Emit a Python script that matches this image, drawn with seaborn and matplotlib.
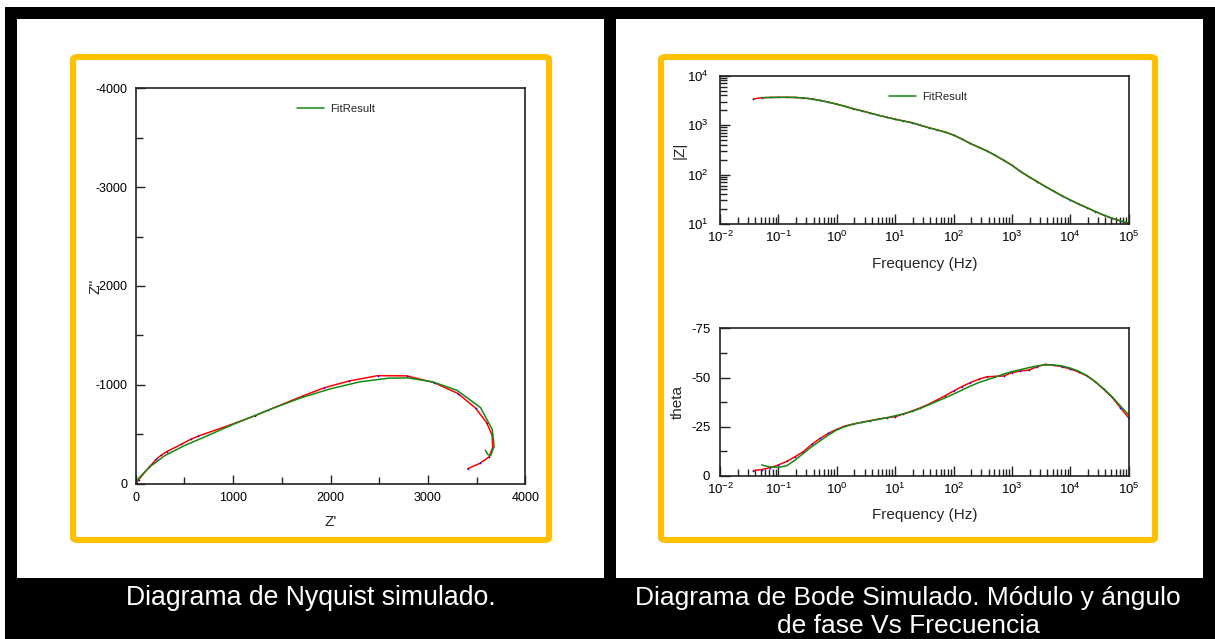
import matplotlib
matplotlib.use("Agg")
import numpy as np
import matplotlib.pyplot as plt
import seaborn as sns
from matplotlib.patches import Rectangle, FancyBboxPatch
from matplotlib.ticker import (LogLocator, LogFormatterMathtext, MultipleLocator,
                               NullFormatter)

# ---------------- data ----------------
# Nyquist: measured spectrum (Z' , Z'') and equivalent-circuit fit
zre_meas = [9, 30, 140, 175, 209, 260, 318, 465, 565, 643, 968, 1225, 1362, 1721,
            1937, 2190, 2484, 2782, 3065, 3311, 3490, 3603, 3660, 3665, 3630, 3534, 3408]
zim_meas = [-5, -40, -172, -206, -246, -287, -324, -398, -449, -482, -594, -688, -745, -890,
            -971, -1039, -1093, -1091, -1022, -911, -763, -617, -489, -368, -273, -206, -152]
zre_fit = [0, 30, 150, 300, 500, 700, 1000, 1400, 1700, 2000, 2300, 2600, 2800, 3050,
           3300, 3540, 3660, 3680, 3645, 3615, 3590]
zim_fit = [0, -55, -175, -285, -385, -470, -600, -760, -870, -960, -1030, -1068, -1070, -1030,
           -944, -770, -550, -380, -285, -295, -340]

# Bode: frequencies (Hz), modulus (ohm) and phase (deg)
freq_hz = [100000, 71969, 51795, 37276, 26827, 19307, 13895, 10000,
           7197, 5179, 3728, 2683, 1931, 1389.5, 1000,
           719.7, 517.9, 372.8, 268.3, 193.1, 139.0, 100.0,
           71.97, 51.79, 37.28, 26.83, 19.31, 13.89, 10.0,
           7.197, 5.179, 3.728, 2.683, 1.931, 1.389, 1.0,
           0.7197, 0.5179, 0.3728, 0.2683, 0.1931, 0.1389, 0.1,
           0.07197, 0.05179, 0.03728]
zmod_meas = [10.3, 11.5, 13.0, 15.1, 17.8, 21.4, 25.4, 30.6,
             37.2, 46.2, 57.5, 72.4, 91.2, 117, 155,
             195, 245, 302, 359, 427, 525, 631,
             724, 804, 891, 1000, 1122, 1216, 1318,
             1445, 1585, 1758, 1950, 2138, 2399, 2661,
             2917, 3162, 3388, 3548, 3631, 3656, 3656,
             3631, 3589, 3388]
phase_meas = [-29.5, -34.7, -40.0, -44.0, -47.9, -50.8, -52.8, -54.3,
              -55.5, -56.2, -56.7, -55.5, -53.8, -53.3, -52.5,
              -50.8, -50.6, -50.4, -49.1, -47.4, -45.4, -43.2,
              -40.8, -38.6, -36.4, -34.6, -33.0, -31.5, -30.1,
              -29.6, -28.9, -28.1, -27.3, -26.4, -25.4, -23.7,
              -21.7, -19.1, -16.1, -12.4, -9.8, -7.4, -5.6,
              -4.2, -3.3, -2.7]
freq_fit = freq_hz[:45]
zmod_fit = [10.4, 11.6, 13.1, 15.2, 17.9, 21.3, 25.3, 30.5,
            37.1, 46.0, 57.3, 72.0, 90.8, 116, 154,
            194, 244, 300, 357, 425, 522, 628,
            721, 802, 889, 998, 1118, 1212, 1312,
            1440, 1580, 1752, 1944, 2130, 2390, 2650,
            2905, 3150, 3380, 3545, 3630, 3656, 3650,
            3620, 3590]
phase_fit = [-31.0, -35.6, -40.3, -44.3, -47.8, -51.0, -53.2, -54.8,
             -55.9, -56.4, -56.4, -55.9, -55.0, -54.0, -53.0,
             -51.8, -50.2, -48.8, -47.4, -45.6, -43.6, -41.6,
             -39.7, -37.9, -36.1, -34.3, -32.7, -31.6, -30.6,
             -29.6, -28.8, -28.0, -27.2, -26.4, -25.1, -23.4,
             -20.8, -17.9, -14.9, -11.5, -8.1, -5.2, -4.4,
             -4.6, -5.6]

captions = ["Diagrama de Nyquist simulado.",
            "Diagrama de Bode Simulado. Módulo y ángulo\nde fase Vs Frecuencia"]

# ---------------- style ----------------
sns.set_style("white")
plt.rcParams["font.family"] = ["Liberation Sans", "DejaVu Sans"]
plt.rcParams["mathtext.default"] = "regular"
plt.rcParams["axes.unicode_minus"] = False

W, H = 1215, 639
fig = plt.figure(figsize=(W / 100, H / 100), dpi=100, facecolor="black")


def fig_rect(x0, y0, x1, y1):
    """Pixel box (top-left origin) -> figure fraction [l, b, w, h]."""
    return [x0 / W, 1 - y1 / H, (x1 - x0) / W, (y1 - y0) / H]


def add_box(x0, y0, x1, y1, color, z):
    l, b, w, h = fig_rect(x0, y0, x1, y1)
    fig.add_artist(Rectangle((l, b), w, h, transform=fig.transFigure,
                             facecolor=color, edgecolor="none", zorder=z))


# white margins and panels
add_box(0, 0, W, 7, "white", -3)
add_box(0, 0, 5, H, "white", -3)
add_box(17, 19, 604, 578, "white", -2)
add_box(616, 19, 1203, 578, "white", -2)

# orange frames
for (x0, y0, x1, y1) in [(73, 57, 549, 540), (661, 57, 1155, 540)]:
    l, b, w, h = fig_rect(x0, y0, x1, y1)
    fig.add_artist(FancyBboxPatch((l, b), w, h, boxstyle="round,pad=0,rounding_size=0.004",
                                  transform=fig.transFigure, facecolor="none",
                                  edgecolor="#FFC000", linewidth=4.4, zorder=-1))

RED, GREEN, BLUE = "#FF0000", "#138A13", "#0000FF"
SPINE = "#222222"


def style_axes(ax):
    for s in ax.spines.values():
        s.set_visible(True)
        s.set_color(SPINE)
        s.set_linewidth(1.2)
    ax.tick_params(which="both", direction="in", bottom=True, left=True,
                   top=False, right=False, colors=SPINE, labelcolor="black", width=1)
    ax.set_facecolor("white")


def meas_kw():
    return dict(color=RED, linewidth=1.1, marker="o", markersize=1.2,
                markerfacecolor=BLUE, markeredgecolor=BLUE, markeredgewidth=0)


# ---------------- Nyquist ----------------
axN = fig.add_axes(fig_rect(135.7, 88.3, 525.3, 483.7))
sns.lineplot(x=zre_meas, y=zim_meas, sort=False, ax=axN, estimator=None, **meas_kw())
sns.lineplot(x=zre_fit, y=zim_fit, sort=False, ax=axN, estimator=None,
             color=GREEN, linewidth=1.1, label="FitResult")
axN.set_xlim(0, 4000)
axN.set_ylim(0, -4000)
axN.xaxis.set_major_locator(MultipleLocator(1000))
axN.xaxis.set_minor_locator(MultipleLocator(500))
axN.yaxis.set_major_locator(MultipleLocator(1000))
axN.yaxis.set_minor_locator(MultipleLocator(500))
style_axes(axN)
axN.tick_params(which="major", length=6.5, labelsize=9, pad=6)
axN.tick_params(which="minor", length=5)
axN.set_xlabel("Z'", fontsize=11)
axN.set_ylabel("Z''", fontsize=11)
axN.xaxis.set_label_coords(0.5, -0.078)
axN.yaxis.set_label_coords(-0.084, 0.5)
h, l = axN.get_legend_handles_labels()
axN.legend(h, l, loc="center left", bbox_to_anchor=(0.414, 0.948), frameon=False,
           fontsize=8.2, handlelength=2.35, handletextpad=0.6, borderpad=0,
           borderaxespad=0)


# ---------------- Bode ----------------
def log_x(ax):
    ax.set_xscale("log")
    ax.set_xlim(1e-2, 1e5)
    ax.xaxis.set_major_locator(LogLocator(base=10, numticks=20))
    ax.xaxis.set_major_formatter(LogFormatterMathtext())
    ax.xaxis.set_minor_locator(LogLocator(base=10, subs=np.arange(2, 10), numticks=100))
    ax.xaxis.set_minor_formatter(NullFormatter())
    ax.set_xlabel("Frequency (Hz)", fontsize=11)
    ax.xaxis.set_label_coords(0.5, -0.22)


axM = fig.add_axes(fig_rect(720, 75.7, 1128.7, 224))
sns.lineplot(x=freq_hz, y=zmod_meas, sort=False, ax=axM, estimator=None, **meas_kw())
sns.lineplot(x=freq_fit, y=zmod_fit, sort=False, ax=axM, estimator=None,
             color=GREEN, linewidth=1.1, label="FitResult")
log_x(axM)
axM.set_yscale("log")
axM.set_ylim(10, 1e4)
axM.yaxis.set_major_locator(LogLocator(base=10, numticks=20))
axM.yaxis.set_major_formatter(LogFormatterMathtext())
axM.yaxis.set_minor_locator(LogLocator(base=10, subs=np.arange(2, 10), numticks=100))
axM.yaxis.set_minor_formatter(NullFormatter())
style_axes(axM)
axM.tick_params(which="major", length=7, labelsize=9.5)
axM.tick_params(which="minor", length=5)
axM.tick_params(axis="x", which="major", pad=4)
axM.tick_params(axis="y", which="major", pad=8)
axM.set_ylabel("|Z|", fontsize=11)
axM.yaxis.set_label_coords(-0.081, 0.5)
h, l = axM.get_legend_handles_labels()
axM.legend(h, l, loc="center left", bbox_to_anchor=(0.4135, 0.856), frameon=False,
           fontsize=8.2, handlelength=2.35, handletextpad=0.6, borderpad=0,
           borderaxespad=0)

axP = fig.add_axes(fig_rect(720, 328.3, 1128.7, 476))
sns.lineplot(x=freq_hz, y=phase_meas, sort=False, ax=axP, estimator=None, **meas_kw())
sns.lineplot(x=freq_fit, y=phase_fit, sort=False, ax=axP, estimator=None,
             color=GREEN, linewidth=1.1, legend=False)
log_x(axP)
axP.set_ylim(0, -75)
axP.yaxis.set_major_locator(MultipleLocator(25))
axP.yaxis.set_minor_locator(MultipleLocator(12.5))
style_axes(axP)
axP.tick_params(which="major", length=7, labelsize=9.5)
axP.tick_params(which="minor", length=5)
axP.tick_params(axis="x", which="major", pad=4)
axP.tick_params(axis="y", which="major", pad=7)
axP.set_ylabel("theta", fontsize=11)
axP.yaxis.set_label_coords(-0.0856, 0.5)
if axP.get_legend() is not None:
    axP.get_legend().remove()

# ---------------- captions ----------------
fig.text(311 / W, 1 - 598 / H, captions[0], color="white", fontsize=19.2,
         ha="center", va="center")
fig.text(908 / W, 1 - 612 / H, captions[1], color="white", fontsize=19.0,
         ha="center", va="center", linespacing=1.2)

fig.savefig("out.png", dpi=100, facecolor="black")
